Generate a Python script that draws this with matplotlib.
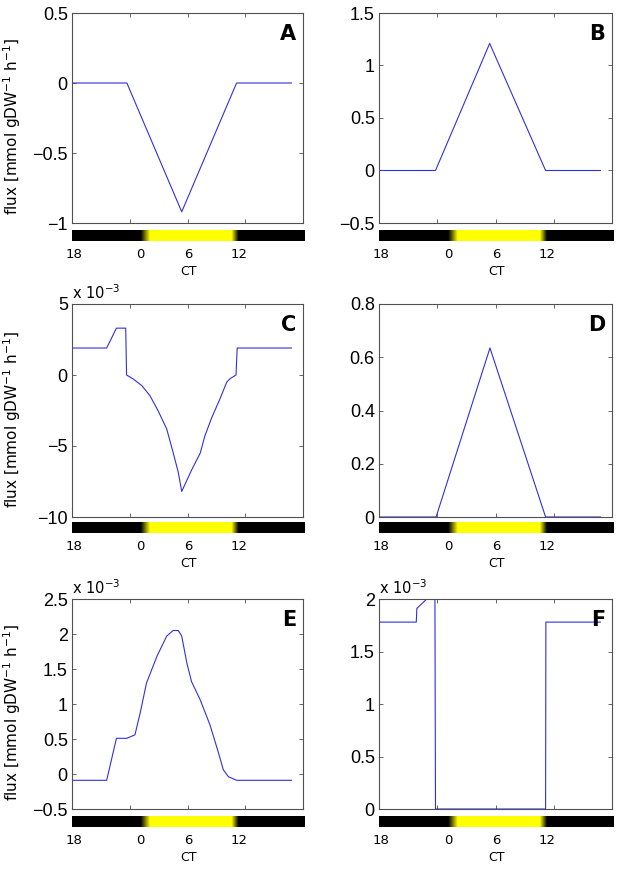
import numpy as np
import matplotlib.pyplot as plt
from matplotlib.colors import LinearSegmentedColormap

plt.rcParams['font.family'] = ['DejaVu Sans']

# time axis (simulation steps), light schedule for the strip
LIGHT_X = [0, 11.8, 13.4, 27.4, 28.6, 40]
LIGHT_LEVEL = [0, 0, 1, 1, 0, 0]
CT_POS = [0.3, 11.8, 20.0, 28.6]
CT_LABELS = ["18", "0", "6", "12"]

# panel A
A_X = [0, 9.5, 19.0, 28.5, 38]
A_Y = [0, 0, -0.92, 0, 0]
# panel B
B_X = [0, 9.7, 19.0, 28.6, 38]
B_Y = [0, 0, 1.21, 0, 0]
# panel C (x 10^-3)
C_X = [0, 6.0, 7.7, 9.3, 9.45, 10.6, 12.1, 13.5, 14.9, 16.4, 17.5, 18.4, 19.0,
       20.7, 22.2, 23.0, 24.2, 25.6, 26.8, 27.4, 28.4, 28.6, 38]
C_Y = [1.9, 1.9, 3.3, 3.3, 0.0, -0.28, -0.75, -1.46, -2.51, -3.8, -5.44, -6.85, -8.2,
       -6.7, -5.5, -4.3, -3.0, -1.7, -0.5, -0.25, 0.0, 1.9, 1.9]
# panel D
D_X = [0, 9.8, 19.05, 28.6, 38]
D_Y = [0, 0, 0.635, 0, 0]
# panel E (x 10^-3)
E_X = [0, 6.0, 7.7, 9.5, 10.9, 11.8, 12.9, 14.7, 16.4, 17.5, 18.4, 19.0, 19.9,
       20.7, 22.2, 23.9, 25.3, 26.2, 27.1, 28.5, 38]
E_Y = [-0.09, -0.09, 0.51, 0.51, 0.56, 0.87, 1.30, 1.68, 1.97, 2.05, 2.05, 1.97, 1.58,
       1.32, 1.06, 0.70, 0.32, 0.06, -0.04, -0.09, -0.09]
# panel F (x 10^-3)
F_X = [0, 6.4, 6.5, 8.2, 9.6, 9.7, 28.6, 28.65, 38]
F_Y = [1.78, 1.78, 1.91, 2.0, 2.0, 0, 0, 1.78, 1.78]

panels = [
    ("A", A_X, A_Y, (-1, 0.5), [-1, -0.5, 0, 0.5], ["\u22121", "\u22120.5", "0", "0.5"], False),
    ("B", B_X, B_Y, (-0.5, 1.5), [-0.5, 0, 0.5, 1, 1.5], ["\u22120.5", "0", "0.5", "1", "1.5"], False),
    ("C", C_X, C_Y, (-10, 5), [-10, -5, 0, 5], ["\u221210", "\u22125", "0", "5"], True),
    ("D", D_X, D_Y, (0, 0.8), [0, 0.2, 0.4, 0.6, 0.8], ["0", "0.2", "0.4", "0.6", "0.8"], False),
    ("E", E_X, E_Y, (-0.5, 2.5), [-0.5, 0, 0.5, 1, 1.5, 2, 2.5],
     ["\u22120.5", "0", "0.5", "1", "1.5", "2", "2.5"], True),
    ("F", F_X, F_Y, (0, 2), [0, 0.5, 1, 1.5, 2], ["0", "0.5", "1", "1.5", "2"], True),
]

W, H = 630, 871
col_x = [(72, 231), (379, 233)]
row_y = [(13, 210, 230), (304, 213, 522), (599, 210, 816)]
strip_h = 11
edge = "#505050"

cmap = LinearSegmentedColormap.from_list("daylight", ["black", "#ffff00"])
grid = np.linspace(0, 40, 800)
light = np.interp(grid, LIGHT_X, LIGHT_LEVEL)

fig = plt.figure(figsize=(6.3, 8.71), dpi=100)

for i, (letter, xs, ys, ylim, yt, ytl, scaled) in enumerate(panels):
    r, c = divmod(i, 2)
    x0, w = col_x[c]
    top, h, stop = row_y[r]
    ax = fig.add_axes([x0 / W, 1 - (top + h) / H, w / W, h / H])
    ax.plot(xs, ys, color="#3030e0", linewidth=0.8)
    ax.set_xlim(0, 40)
    ax.set_ylim(*ylim)
    ax.set_xticks([10, 20, 30])
    ax.set_xticklabels([])
    ax.set_yticks(yt)
    ax.set_yticklabels(ytl, fontfamily="Liberation Sans", fontsize=13)
    ax.tick_params(direction="in", top=True, right=True, length=3, width=0.6,
                   colors=edge, labelcolor="black", pad=3)
    for s in ax.spines.values():
        s.set_color(edge)
        s.set_linewidth(0.8)
    ax.text(0.97, 0.95, letter, transform=ax.transAxes, ha="right", va="top",
            fontsize=15, fontweight="bold")
    if scaled:
        ax.text(0.0, 1.01, r"x 10$^{-3}$", transform=ax.transAxes, ha="left",
                va="bottom", fontsize=10.5)
    if c == 0:
        ax.set_ylabel(r"flux [mmol gDW$^{-1}$ h$^{-1}$]", fontsize=11)
        ax.yaxis.set_label_coords(-49 / w, 0.46)

    sx = fig.add_axes([x0 / W, 1 - (stop + strip_h) / H, (w + 2) / W, strip_h / H])
    sx.imshow(light[np.newaxis, :], cmap=cmap, aspect="auto", extent=[0, 40, 0, 1],
              vmin=0, vmax=1, interpolation="bilinear")
    sx.set_xlim(0, 40)
    sx.set_yticks([])
    sx.set_xticks(CT_POS)
    sx.set_xticklabels(CT_LABELS, fontsize=9.5)
    sx.tick_params(length=0, pad=5)
    for s in sx.spines.values():
        s.set_visible(False)
    sx.set_xlabel("CT", fontsize=9, labelpad=3)

fig.savefig("out.png", dpi=100)
